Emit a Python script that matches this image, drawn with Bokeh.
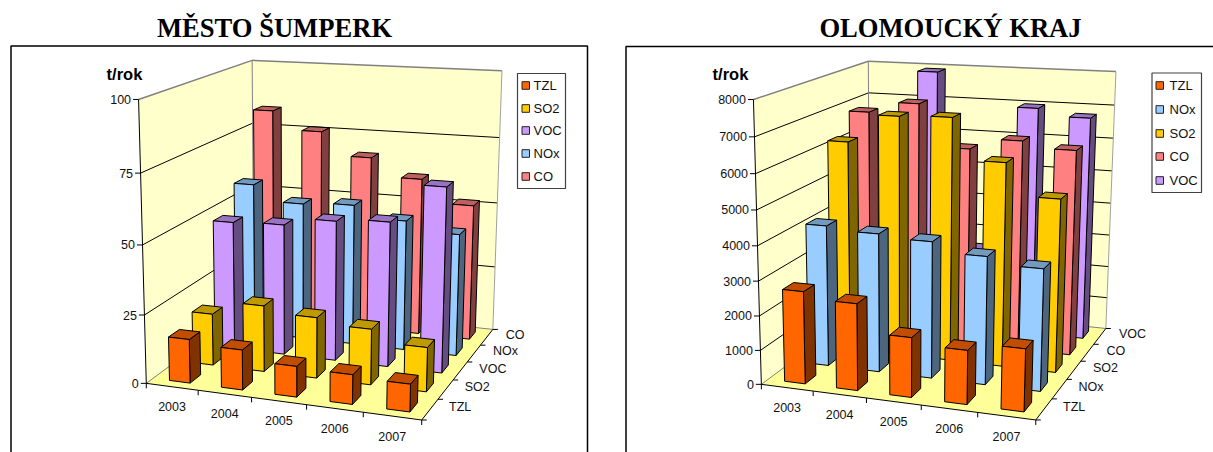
import numpy as np
from bokeh.embed import file_html
from bokeh.layouts import row
from bokeh.models import Range1d
from bokeh.plotting import figure
from bokeh.resources import INLINE
from bokeh.core.properties import value

YEARS = ["2003", "2004", "2005", "2006", "2007"]

# Emissions in t/year, one list per pollutant
SUMPERK_SERIES = ["TZL", "SO2", "VOC", "NOx", "CO"]
SUMPERK_TZL = [16, 14.5, 11, 10.5, 9.7]
SUMPERK_SO2 = [19.2, 24.4, 22.2, 20.2, 15.9]
SUMPERK_VOC = [48.3, 49, 52, 53.3, 67.3]
SUMPERK_NOX = [58.2, 52.3, 53.3, 49, 45.6]
SUMPERK_CO = [83, 76, 67.2, 60.3, 51.7]
SUMPERK_TICKS = [0, 25, 50, 75, 100]

KRAJ_SERIES = ["TZL", "NOx", "SO2", "CO", "VOC"]
KRAJ_TZL = [2685, 2500, 1710, 1530, 1755]
KRAJ_NOX = [4160, 4060, 3970, 3690, 3490]
KRAJ_SO2 = [6270, 7100, 7150, 5970, 5050]
KRAJ_CO = [6880, 7210, 5960, 6290, 6110]
KRAJ_VOC = [5200, 7925, 2500, 6980, 6770]
KRAJ_TICKS = [0, 1000, 2000, 3000, 4000, 5000, 6000, 7000, 8000]

# (front, side, top) shades per pollutant
SHADES = {
    "TZL": ("#FF6600", "#803300", "#C04D00"),
    "SO2": ("#FFCC00", "#806600", "#BF9900"),
    "VOC": ("#CC99FF", "#664D80", "#9973BF"),
    "NOx": ("#99CCFF", "#4D6680", "#7399BF"),
    "CO": ("#FF8080", "#804040", "#BF6060"),
}
WALL = "#FFFFCC"
FLOOR = "#FFFF99"
EDGE = "#808080"
SANS = value("Liberation Sans")
SERIF = value("Liberation Serif")

BAR_WIDTH = 0.40   # share of a category cell
BAR_DEPTH = 0.45   # share of a series cell


def camera(anchors):
    """Least-squares projective camera from (u, w, v) -> (x, y) pairs."""
    a, b = [], []
    for (u, w, v), (x, y) in anchors:
        a.append([u, w, v, 1, 0, 0, 0, 0, -x * u, -x * w, -x * v])
        b.append(x)
        a.append([0, 0, 0, 0, u, w, v, 1, -y * u, -y * w, -y * v])
        b.append(y)
    m = np.linalg.lstsq(np.array(a, float), np.array(b, float), rcond=None)[0]
    m = np.append(m, 1.0).reshape(3, 4)

    def project(u, w, v):
        q = m @ np.array([u, w, v, 1.0])
        return q[0] / q[2], q[1] / q[2]

    return project


def draw_chart(x0, x1, chart):
    p = figure(width=x1 - x0, height=452, x_range=Range1d(x0, x1), y_range=Range1d(452, 0),
               output_backend="svg", toolbar_location=None, min_border=0,
               x_axis_location=None, y_axis_location=None, outline_line_color=None)
    p.grid.visible = False
    p.background_fill_color = "white"
    proj = camera(chart["anchors"])
    vmax = chart["ticks"][-1]

    def poly(corners):
        pts = [proj(u, w, v / vmax) for u, w, v in corners]
        return [a for a, _ in pts], [b for _, b in pts]

    def seg(a, b, color, width=1.0):
        xs, ys = poly([a, b])
        p.line(xs, ys, line_color=color, line_width=width)

    # Chart frame, title and unit
    fl, ft, fr, fb = chart["frame"]
    p.line([fl, fl, fr, fr], [fb, ft, ft, fb], line_color="black", line_width=1.5)
    p.text([chart["title_x"]], [27], text=[chart["title"]], text_font=SERIF, text_font_style="bold",
           text_font_size="26.6px", text_align="center", text_baseline="middle", text_color="black")
    p.text([chart["unit_x"]], [73.5], text=["t/rok"], text_font=SANS, text_font_style="bold",
           text_font_size="16.5px", text_align="center", text_baseline="middle", text_color="black")

    # Walls and floor
    for corners, fill in [
        ([(0, 0, 0), (0, 1, 0), (0, 1, vmax), (0, 0, vmax)], WALL),
        ([(0, 1, 0), (1, 1, 0), (1, 1, vmax), (0, 1, vmax)], WALL),
        ([(0, 0, 0), (1, 0, 0), (1, 1, 0), (0, 1, 0)], FLOOR),
    ]:
        xs, ys = poly(corners)
        p.patch(xs, ys, fill_color=fill, line_color=None)

    for t in chart["ticks"][1:-1]:
        seg((0, 0, t), (0, 1, t), "black")
        seg((0, 1, t), (1, 1, t), "black")
    seg((0, 0, vmax), (0, 1, vmax), EDGE, 1.5)
    seg((0, 1, vmax), (1, 1, vmax), EDGE, 1.5)
    seg((0, 1, 0), (0, 1, vmax), EDGE)
    seg((1, 1, 0), (1, 1, vmax), "#A0A0A0")
    seg((0, 0, 0), (0, 1, 0), EDGE)
    seg((0, 1, 0), (1, 1, 0), EDGE)
    seg((0, 0, 0), (0, 0, vmax), "black")
    seg((0, 0, 0), (1, 0, 0), "black")
    seg((1, 0, 0), (1, 1, 0), "black")

    # Value axis ticks and labels
    for t in chart["ticks"]:
        x, y = proj(0, 0, t / vmax)
        p.line([x - 5.5, x], [y, y], line_color="black")
        p.text([x - 7.5], [y], text=[str(t)], text_font=SANS, text_font_size="12.5px",
               text_align="right", text_baseline="middle", text_color="#111111")

    # Category axis
    ncat, nser = len(YEARS), len(chart["series"])
    for i in range(ncat + 1):
        x, y = proj(i / ncat, 0, 0)
        p.line([x, x], [y, y + 5], line_color="black")
    for i, year in enumerate(YEARS):
        x, y = proj((i + 0.5) / ncat, 0, 0)
        p.text([x], [y + 20], text=[year], text_font=SANS, text_font_size="12.5px",
               text_align="center", text_baseline="middle", text_color="#111111")

    # Series axis
    for j in range(nser + 1):
        x, y = proj(1, j / nser, 0)
        p.line([x, x + 5], [y, y], line_color="black")
    for j, name in enumerate(chart["series"]):
        x, y = proj(1, (j + 0.5) / nser, 0)
        p.text([x + 19], [y - 2], text=[name], text_font=SANS, text_font_size="12.5px",
               text_align="left", text_baseline="middle", text_color="#111111")

    # Bars, painted from the far row forward and right to left
    xs_all, ys_all, fills = [], [], []
    for j in reversed(range(nser)):
        name = chart["series"][j]
        front, side, top = SHADES[name]
        for i in reversed(range(ncat)):
            val = chart["values"][name][i]
            u0 = (i + 0.52 - BAR_WIDTH / 2) / ncat
            u1 = (i + 0.52 + BAR_WIDTH / 2) / ncat
            w0 = (j + 0.5 - BAR_DEPTH / 2) / nser
            w1 = (j + 0.5 + BAR_DEPTH / 2) / nser
            faces = [
                ([(u1, w0, 0), (u1, w1, 0), (u1, w1, val), (u1, w0, val)], side),
                ([(u0, w0, val), (u1, w0, val), (u1, w1, val), (u0, w1, val)], top),
                ([(u0, w0, 0), (u1, w0, 0), (u1, w0, val), (u0, w0, val)], front),
            ]
            for corners, fill in faces:
                xs, ys = poly(corners)
                xs_all.append(xs)
                ys_all.append(ys)
                fills.append(fill)
    p.patches(xs_all, ys_all, fill_color=fills, line_color="black", line_width=1, line_join="round")

    # Legend
    ll, lt, lr, lb = chart["legend_box"]
    p.quad(left=[ll], right=[lr], top=[lt], bottom=[lb], fill_color="white",
           line_color="#404040", line_width=1.2)
    sx, tx = chart["legend_x"]
    for yc, name in zip(chart["legend_y"], chart["legend"]):
        p.quad(left=[sx], right=[sx + 7.5], top=[yc - 3.8], bottom=[yc + 3.8],
               fill_color=SHADES[name][0], line_color="#222222", line_width=1)
        p.text([tx], [yc], text=[name], text_font=SANS, text_font_size="13px",
               text_align="left", text_baseline="middle", text_color="#111111")
    return p


sumperk = draw_chart(0, 606, {
    "title": "MĚSTO ŠUMPERK", "title_x": 274, "unit_x": 124,
    "frame": (10.5, 45.5, 587, 470),
    "series": SUMPERK_SERIES, "ticks": SUMPERK_TICKS,
    "values": {"TZL": SUMPERK_TZL, "SO2": SUMPERK_SO2, "VOC": SUMPERK_VOC,
               "NOx": SUMPERK_NOX, "CO": SUMPERK_CO},
    "anchors": [((0, 0, 0), (147, 380.5)), ((1, 0, 0), (421, 422)), ((1, 1, 0), (493, 326)),
                ((0, 1, 0), (252, 306)), ((0, 0, 1), (137, 99)), ((0, 1, 1), (253, 59)),
                ((1, 1, 1), (501, 71))],
    "legend_box": (517, 73, 565, 188), "legend_x": (521.5, 533),
    "legend_y": [85, 108, 130, 153, 176], "legend": SUMPERK_SERIES,
})

kraj = draw_chart(606, 1213, {
    "title": "OLOMOUCKÝ KRAJ", "title_x": 950, "unit_x": 730,
    "frame": (625.5, 46, 1230, 470),
    "series": KRAJ_SERIES, "ticks": KRAJ_TICKS,
    "values": {"TZL": KRAJ_TZL, "NOx": KRAJ_NOX, "SO2": KRAJ_SO2,
               "CO": KRAJ_CO, "VOC": KRAJ_VOC},
    "anchors": [((0, 0, 0), (762, 381.5)), ((1, 0, 0), (1035, 422)), ((1, 1, 0), (1106, 325)),
                ((0, 1, 0), (868, 306)), ((0, 0, 1), (752, 99)), ((0, 1, 1), (869, 60)),
                ((1, 1, 1), (1115, 72))],
    "legend_box": (1151.5, 72.5, 1201, 192), "legend_x": (1155.5, 1169),
    "legend_y": [85, 109, 133, 156, 180], "legend": KRAJ_SERIES,
})

page = row(sumperk, kraj, spacing=0)
open("out.html", "w").write(file_html(page, INLINE))
